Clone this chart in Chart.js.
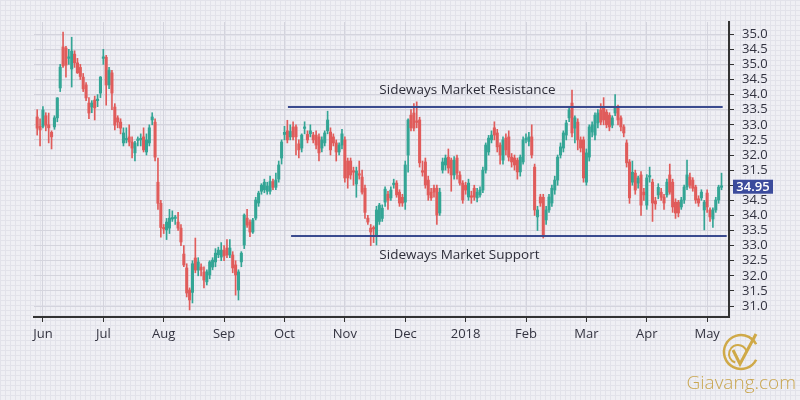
<!DOCTYPE html>
<html lang="en">
<head>
    <meta charset="UTF-8">
    <title>Sideways Market</title>
    <style>
        body {
            margin: 0;
            width: 800px;
            height: 400px;
            overflow: hidden;
            background-color: #efeff4;
            background-image:
                linear-gradient(#e2e2ea 1px, transparent 1px),
                linear-gradient(90deg, #e2e2ea 1px, transparent 1px);
            background-size: 5px 5px;
            font-family: "Open Sans", Arial, sans-serif;
        }
        #chart { display: block; }
    </style>
    <script src="https://cdn.jsdelivr.net/npm/chart.js"></script>
</head>
<body>
    <canvas id="chart" width="800" height="400"></canvas>

    <script>
        // candles, one per trading day
        const openP = [
            37.26, 36.95, 36.95, 37.3, 37.0, 36.75, 36.93, 37.23, 38.22, 39.58,
            39.54, 39.2, 38.85, 39.34, 39.05, 38.9, 38.58, 38.32, 37.72, 37.59,
            37.82, 37.8, 38.05, 39.2, 39.24, 38.32, 38.72, 37.59, 37.23, 37.09,
            36.4, 36.5, 36.6, 36.43, 36.07, 36.48, 36.5, 36.6, 36.1, 36.4,
            37.16, 37.09, 35.1, 34.4, 33.6, 33.52, 33.58, 33.88, 33.9, 33.78,
            33.58, 32.72, 32.26, 31.53, 31.45, 32.59, 32.19, 32.29, 32.13, 31.8,
            32.03, 32.29, 32.46, 32.7, 32.62, 32.85, 32.92, 32.69, 32.69, 32.36,
            31.53, 32.46, 33.02, 33.91, 33.78, 33.45, 33.91, 34.41, 34.8, 34.85,
            34.8, 34.8, 35.12, 34.93, 35.2, 35.9, 36.68, 36.8, 36.6, 36.93,
            36.93, 36.37, 36.23, 36.88, 36.68, 36.7, 36.66, 36.66, 36.6, 36.23,
            36.4, 36.8, 36.76, 36.6, 36.4, 36.1, 36.33, 36.5, 35.8, 35.8,
            35.45, 35.04, 35.35, 35.27, 34.9, 33.91, 33.58, 33.58, 33.35, 33.8,
            33.9, 34.44, 34.7, 34.58, 35.02, 35.07, 34.77, 34.6, 34.44, 36.0,
            37.32, 37.39, 37.1, 37.16, 35.45, 35.77, 35.17, 34.77, 34.9, 34.9,
            34.08, 35.5, 35.67, 35.93, 35.83, 35.34, 35.9, 35.34, 35.07, 35.0,
            34.61, 34.61, 34.9, 34.58, 34.68, 34.84, 35.5, 36.1, 36.5, 36.9,
            36.73, 36.33, 35.83, 36.56, 36.6, 35.93, 35.9, 35.83, 35.44, 35.77,
            36.5, 36.45, 36.6, 35.6, 33.95, 34.61, 34.6, 33.85, 34.18, 34.41,
            34.84, 35.17, 36.0, 36.23, 36.66, 37.23, 37.72, 36.89, 37.09, 36.5,
            36.5, 35.1, 35.93, 36.76, 36.66, 37.06, 37.49, 37.59, 37.42, 37.32,
            36.99, 37.39, 37.56, 37.23, 36.93, 36.4, 35.77, 35.1, 35.4, 35.07,
            35.34, 34.77, 34.34, 35.27, 35.1, 34.48, 34.68, 34.77, 34.61, 34.68,
            35.34, 35.1, 34.44, 34.44, 34.28, 34.51, 34.94, 35.27, 35.17, 34.94,
            34.55, 34.58, 34.18, 34.74, 34.18, 33.88, 34.18, 34.51, 34.93
        ];
        const highP = [
            37.5, 37.2, 37.6, 37.4, 37.39, 36.8, 37.3, 37.9, 39.0, 40.07,
            39.6, 39.5, 39.9, 39.45, 39.2, 39.0, 38.7, 38.4, 37.9, 37.8,
            37.95, 38.0, 38.6, 39.5, 39.3, 38.9, 38.8, 37.7, 37.3, 37.2,
            36.9, 36.9, 37.0, 36.6, 36.45, 36.6, 36.7, 36.9, 36.7, 37.0,
            37.4, 37.2, 35.9, 34.5, 33.7, 33.9, 34.2, 34.15, 34.0, 34.1,
            33.7, 33.0, 32.4, 31.6, 32.5, 33.25, 32.6, 32.4, 32.3, 32.2,
            32.5, 32.6, 32.9, 32.95, 33.1, 33.0, 33.2, 33.2, 32.8, 32.5,
            32.2, 32.8, 34.05, 34.2, 33.85, 33.9, 34.6, 34.8, 35.05, 35.2,
            35.1, 35.3, 35.2, 35.4, 35.8, 36.5, 36.95, 37.15, 37.0, 37.1,
            37.0, 36.5, 36.7, 37.1, 36.8, 37.0, 36.75, 36.8, 36.7, 36.6,
            36.8, 37.45, 36.9, 36.7, 36.5, 36.4, 36.85, 36.6, 35.9, 35.9,
            35.6, 35.6, 35.8, 35.5, 35.0, 34.0, 33.7, 33.65, 34.3, 34.4,
            34.35, 34.95, 34.8, 34.95, 35.2, 35.15, 34.85, 34.7, 35.8, 37.2,
            37.5, 37.7, 37.76, 37.25, 35.8, 35.9, 35.3, 34.9, 35.0, 35.0,
            34.9, 35.9, 36.0, 36.2, 35.9, 35.95, 36.0, 35.45, 35.15, 35.1,
            35.2, 34.8, 35.0, 34.9, 34.95, 35.6, 36.4, 36.65, 36.8, 37.1,
            36.85, 36.4, 36.6, 36.7, 36.8, 36.05, 36.0, 35.9, 36.0, 36.6,
            36.7, 36.75, 37.0, 35.7, 34.3, 34.7, 34.7, 34.3, 34.7, 35.0,
            35.3, 36.0, 36.4, 36.8, 37.15, 37.6, 38.15, 37.3, 37.2, 36.6,
            36.6, 36.2, 37.0, 37.1, 37.4, 37.5, 37.7, 37.9, 37.5, 37.4,
            37.3, 38.0, 37.65, 37.3, 37.0, 36.5, 35.85, 35.8, 35.5, 35.3,
            35.45, 34.9, 35.35, 35.6, 35.2, 34.6, 35.05, 34.9, 34.7, 35.2,
            35.7, 35.2, 34.55, 34.5, 34.6, 35.0, 35.83, 35.4, 35.25, 35.0,
            34.65, 34.85, 34.5, 34.85, 34.25, 34.25, 34.6, 35.0, 35.4
        ];
        const lowP = [
            36.66, 36.3, 36.9, 36.8, 36.4, 36.2, 36.85, 37.1, 38.1, 38.9,
            38.58, 39.0, 38.25, 38.9, 38.7, 38.5, 38.1, 37.8, 37.2, 37.4,
            37.16, 37.6, 37.9, 39.0, 37.65, 38.2, 37.5, 36.83, 36.9, 36.7,
            36.3, 36.4, 36.3, 35.9, 35.8, 36.3, 36.3, 36.1, 36.0, 36.3,
            37.0, 35.8, 34.2, 33.28, 33.4, 33.2, 33.4, 33.8, 33.7, 33.5,
            33.0, 32.3, 31.3, 30.87, 31.1, 32.1, 32.0, 32.0, 31.6, 31.7,
            31.9, 32.2, 32.3, 32.6, 32.5, 32.5, 32.6, 32.6, 32.1, 31.36,
            31.2, 32.3, 32.9, 33.6, 33.3, 33.4, 33.85, 34.3, 34.7, 34.75,
            34.7, 34.7, 34.85, 34.85, 35.1, 35.7, 36.5, 36.4, 36.5, 36.5,
            36.0, 35.9, 36.1, 36.7, 36.4, 36.6, 36.4, 36.2, 35.8, 36.1,
            36.3, 36.7, 36.0, 36.3, 35.8, 36.0, 36.2, 35.1, 34.9, 35.2,
            35.0, 34.6, 35.2, 34.7, 33.9, 33.7, 33.0, 33.1, 33.02, 33.7,
            33.8, 34.3, 34.2, 34.5, 34.9, 34.6, 34.3, 34.3, 34.2, 35.43,
            36.8, 36.8, 36.9, 35.6, 35.3, 34.9, 34.5, 34.5, 34.6, 33.7,
            34.0, 35.4, 35.5, 35.4, 34.8, 35.2, 35.2, 35.0, 34.4, 34.7,
            34.5, 34.4, 34.5, 34.45, 34.6, 34.75, 35.4, 36.0, 36.4, 36.5,
            36.1, 35.7, 35.7, 36.0, 35.8, 35.6, 35.5, 35.2, 35.3, 35.7,
            36.4, 36.3, 35.9, 34.0, 33.5, 34.3, 33.25, 33.7, 34.1, 34.3,
            34.7, 35.0, 35.9, 36.1, 36.5, 37.1, 36.6, 36.4, 36.17, 36.1,
            35.1, 35.0, 35.8, 36.6, 36.5, 36.9, 37.0, 37.0, 36.9, 36.8,
            36.9, 37.3, 37.0, 36.8, 36.6, 35.6, 34.4, 35.0, 34.7, 34.9,
            34.0, 34.5, 34.2, 35.1, 33.8, 34.2, 34.55, 34.5, 34.2, 34.6,
            34.7, 34.1, 33.9, 33.95, 34.2, 34.4, 34.85, 34.9, 34.8, 34.4,
            34.3, 34.5, 33.52, 34.1, 33.8, 33.6, 34.1, 34.4, 34.85
        ];
        const closeP = [
            36.89, 36.83, 37.49, 36.99, 36.9, 36.6, 37.23, 37.89, 38.91, 38.95,
            38.98, 39.25, 39.44, 39.05, 38.72, 38.6, 38.19, 37.89, 37.39, 37.72,
            37.56, 37.85, 38.58, 39.25, 38.32, 38.81, 38.05, 36.99, 37.09, 36.89,
            36.73, 36.52, 36.43, 36.23, 36.4, 36.52, 36.54, 36.17, 36.5, 36.9,
            37.26, 35.93, 34.4, 33.6, 33.55, 33.78, 33.91, 33.93, 33.93, 33.58,
            33.12, 32.36, 31.43, 31.2, 32.4, 32.19, 32.46, 32.19, 31.86, 32.13,
            32.46, 32.52, 32.75, 32.85, 32.85, 32.66, 32.69, 32.92, 32.26, 32.03,
            32.13, 32.75, 34.01, 33.68, 33.45, 33.85, 34.51, 34.74, 35.0, 35.1,
            34.97, 35.12, 34.93, 35.17, 35.67, 36.43, 36.75, 36.5, 36.78, 36.6,
            36.6, 36.17, 36.66, 36.9, 36.5, 36.8, 36.5, 36.33, 36.07, 36.5,
            36.73, 37.16, 36.17, 36.4, 36.1, 36.33, 36.7, 35.24, 35.24, 35.34,
            35.43, 35.47, 35.33, 34.77, 34.1, 33.78, 33.45, 33.55, 34.18, 34.34,
            34.24, 34.87, 34.5, 34.84, 35.05, 34.68, 34.41, 34.41, 35.67, 37.16,
            36.9, 36.89, 37.08, 35.74, 35.43, 35.01, 34.68, 34.58, 34.77, 34.01,
            34.77, 35.77, 35.9, 35.57, 35.34, 35.83, 35.4, 35.07, 34.51, 34.84,
            35.07, 34.6, 34.61, 34.77, 34.84, 35.5, 36.33, 36.56, 36.66, 36.66,
            36.27, 36.0, 36.5, 36.17, 35.93, 35.77, 35.67, 35.44, 35.93, 36.5,
            36.56, 36.6, 36.0, 34.18, 34.18, 34.41, 33.3, 34.18, 34.61, 34.9,
            35.17, 35.93, 36.27, 36.73, 37.06, 37.49, 36.73, 37.23, 36.5, 36.23,
            35.24, 36.07, 36.93, 37.0, 37.32, 37.39, 37.09, 37.16, 37.0, 36.93,
            37.23, 37.59, 37.16, 36.93, 36.73, 35.74, 34.58, 35.43, 34.84, 35.24,
            34.34, 34.68, 35.24, 35.29, 34.41, 34.38, 34.93, 34.6, 34.41, 35.1,
            34.77, 34.28, 34.08, 34.08, 34.51, 34.94, 35.34, 35.0, 34.9, 34.51,
            34.41, 34.77, 34.44, 34.28, 33.95, 34.18, 34.51, 34.94, 34.95
        ];

        // first trading day of each month (candle index) and its label
        const monthIndex = [2, 23, 44, 65, 86, 107, 128, 149, 170, 191, 212, 233];
        const monthLabels = ['Jun', 'Jul', 'Aug', 'Sep', 'Oct', 'Nov', 'Dec', '2018', 'Feb', 'Mar', 'Apr', 'May'];

        // price axis: positions and the labels printed next to them
        const yTickValues = [40, 39.5, 39, 38.5, 38, 37.5, 37, 36.5, 36, 35.5, 35, 34.5, 34, 33.5, 33, 32.5, 32, 31.5, 31];
        const yTickLabels = ['35.0', '34.5', '35.0', '34.5', '34.0', '33.5', '33.0', '32.5', '32.0', '31.5', '',
                             '34.5', '34.0', '33.5', '33.0', '32.5', '32.0', '31.5', '31.0'];

        // range lines
        const resistanceLevel = 37.59;
        const resistanceSpan = [87.2, 238.4];
        const supportLevel = 33.32;
        const supportSpan = [88.3, 239.8];

        const UP = '#34a595';
        const DOWN = '#e05c5b';
        const NAVY = '#3a4a8e';

        function candleColor(ctx) {
            const i = ctx.dataIndex;
            return closeP[i] >= openP[i] ? UP : DOWN;
        }

        const wicks = openP.map((o, i) => ({ x: i, y: [lowP[i], highP[i]] }));
        const bodies = openP.map((o, i) => ({ x: i, y: [Math.min(o, closeP[i]), Math.max(o, closeP[i])] }));

        const extras = {
            id: 'extras',
            afterDraw(chart) {
                const ctx = chart.ctx;
                const xs = chart.scales.x;
                const ys = chart.scales.y;
                ctx.save();

                // annotation texts
                ctx.fillStyle = '#2e2e3a';
                ctx.font = '13.5px "Open Sans"';
                ctx.textBaseline = 'middle';
                ctx.textAlign = 'left';
                ctx.fillText('Sideways Market Resistance', xs.getPixelForValue(119), ys.getPixelForValue(resistanceLevel) - 17);
                ctx.fillText('Sideways Market Support', xs.getPixelForValue(119), ys.getPixelForValue(supportLevel) + 19);

                // last price tag
                const last = closeP[closeP.length - 1];
                const py = ys.getPixelForValue(last);
                ctx.fillStyle = '#3b4b9c';
                ctx.fillRect(733, py - 7, 40, 14);
                ctx.fillStyle = '#ffffff';
                ctx.font = '600 13px "Open Sans"';
                ctx.textAlign = 'center';
                ctx.fillText(last.toFixed(2), 753, py + 0.5);

                // watermark
                ctx.strokeStyle = '#cfa948';
                ctx.lineWidth = 2.5;
                ctx.beginPath();
                ctx.arc(741, 352, 17, Math.PI * 0.15, Math.PI * 1.85);
                ctx.stroke();
                ctx.lineWidth = 2;
                ctx.beginPath();
                ctx.arc(738, 354, 9, Math.PI * 0.6, Math.PI * 1.9);
                ctx.stroke();
                ctx.lineWidth = 3;
                ctx.beginPath();
                ctx.moveTo(733, 350);
                ctx.lineTo(740, 364);
                ctx.lineTo(756, 334);
                ctx.stroke();
                ctx.fillStyle = '#c9a650';
                ctx.font = '300 19px "Open Sans"';
                ctx.textAlign = 'right';
                ctx.fillText('Giavang.com', 796, 384);
                ctx.restore();
            }
        };

        new Chart(document.getElementById('chart').getContext('2d'), {
            type: 'bar',
            data: {
                datasets: [
                    {
                        type: 'line',
                        data: [{ x: resistanceSpan[0], y: resistanceLevel }, { x: resistanceSpan[1], y: resistanceLevel }],
                        borderColor: NAVY,
                        borderWidth: 2,
                        pointRadius: 0
                    },
                    {
                        type: 'line',
                        data: [{ x: supportSpan[0], y: supportLevel }, { x: supportSpan[1], y: supportLevel }],
                        borderColor: NAVY,
                        borderWidth: 2,
                        pointRadius: 0
                    },
                    {
                        data: wicks,
                        backgroundColor: candleColor,
                        barThickness: 1,
                        grouped: false,
                        borderWidth: 0
                    },
                    {
                        data: bodies,
                        backgroundColor: candleColor,
                        barThickness: 2.4,
                        minBarLength: 1.5,
                        grouped: false,
                        borderWidth: 0
                    }
                ]
            },
            options: {
                responsive: false,
                animation: false,
                layout: { padding: { left: 34, top: 22, right: 0, bottom: 0 } },
                plugins: {
                    legend: { display: false },
                    tooltip: { enabled: false }
                },
                scales: {
                    x: {
                        type: 'linear',
                        offset: false,
                        min: -1.11,
                        max: 240.6,
                        afterBuildTicks: (scale) => { scale.ticks = monthIndex.map(v => ({ value: v })); },
                        afterFit: (scale) => { scale.height = 83; },
                        ticks: {
                            autoSkip: false,
                            maxRotation: 0,
                            padding: 4,
                            color: '#333340',
                            font: { family: 'Open Sans', size: 13 },
                            callback: (v, i) => monthLabels[i]
                        },
                        grid: { offset: false, color: '#d4d4dd', tickColor: '#333', tickLength: 5 },
                        border: { color: '#333', width: 2 }
                    },
                    y: {
                        position: 'right',
                        min: 30.636,
                        max: 40.404,
                        afterBuildTicks: (scale) => { scale.ticks = yTickValues.map(v => ({ value: v })); },
                        afterFit: (scale) => { scale.width = 71; },
                        ticks: {
                            autoSkip: false,
                            padding: 8,
                            color: '#333340',
                            font: { family: 'Open Sans', size: 13 },
                            callback: (v, i) => yTickLabels[i]
                        },
                        grid: { color: '#d4d4dd', tickColor: '#333', tickLength: 5 },
                        border: { color: '#333', width: 2 }
                    }
                }
            },
            plugins: [extras]
        });
    </script>
</body>
</html>
